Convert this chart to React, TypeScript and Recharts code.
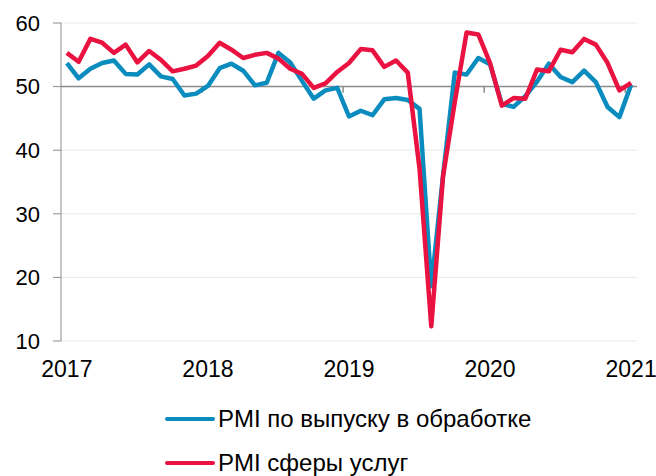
import React from 'react';
import { LineChart, Line, XAxis, YAxis, CartesianGrid, ReferenceLine } from 'recharts';

// monthly index, 0 = first month on the axis
const months = Array.from({ length: 49 }, (_, i) => i);

const manufacturing = [
  53.7, 51.3, 52.8, 53.7, 54.1, 52.0, 51.9, 53.5, 51.6, 51.2, 48.6, 48.9,
  50.1, 52.9, 53.6, 52.5, 50.2, 50.6, 55.3, 53.8, 50.9, 48.1, 49.4, 49.8,
  45.3, 46.2, 45.5, 48.0, 48.2, 47.9, 46.5, 18.6, 36.0, 52.2, 51.9, 54.5,
  53.5, 47.3, 46.8, 48.5, 50.8, 53.6, 51.5, 50.7, 52.5, 50.7, 46.8, 45.2,
  50.3,
];

const services = [
  55.3, 53.9, 57.5, 56.9, 55.3, 56.6, 53.8, 55.6, 54.2, 52.4, 52.8, 53.3,
  54.8, 56.9, 55.8, 54.5, 55.0, 55.3, 54.4, 52.8, 52.0, 49.8, 50.5, 52.3,
  53.7, 55.9, 55.7, 53.1, 54.1, 52.2, 37.1, 12.3, 35.9, 47.6, 58.5, 58.2,
  53.7, 47.0, 48.2, 48.1, 52.7, 52.4, 55.8, 55.4, 57.5, 56.6, 53.7, 49.4,
  50.6,
];

const yearTicks = [0, 12, 24, 36, 48];
const yearLabels = ['2017', '2018', '2019', '2020', '2021'];
const yearBoundaries = [11.5, 23.5, 35.5, 47.5];
const yTicks = [10, 20, 30, 40, 50, 60];

const seriesNames = ['PMI по выпуску в обработке', 'PMI сферы услуг'];
const BLUE = '#0a8cbe';
const RED = '#ea1240';
const FONT = '"Liberation Sans", Arial, sans-serif';

const data = months.map((m, i) => ({
  m,
  mfg: manufacturing[i],
  srv: services[i],
}));

export default function App() {
  return (
    <div style={{ position: 'absolute', left: 0, top: 0, width: 656, height: 476, background: '#fff', fontFamily: FONT }}>
      <LineChart
        width={656}
        height={476}
        data={data}
        margin={{ top: 23, right: 19, left: 0, bottom: 95 }}
      >
        <CartesianGrid vertical={false} stroke="#e8e8e8" strokeWidth={1} />
        <XAxis
          dataKey="m"
          type="number"
          domain={[-0.5, 48.5]}
          ticks={yearTicks}
          tickFormatter={(v) => yearLabels[yearTicks.indexOf(v)]}
          axisLine={false}
          tickLine={false}
          tickSize={0}
          tickMargin={20}
          height={40}
          tick={{ fill: '#000', fontSize: 23, fontFamily: FONT }}
        />
        <YAxis
          domain={[10, 60]}
          ticks={yTicks}
          width={61}
          interval={0}
          stroke="#8c8c8c"
          tickSize={8}
          tickMargin={13}
          tick={{ fill: '#000', fontSize: 22, fontFamily: FONT }}
        />
        <ReferenceLine y={50} stroke="#8c8c8c" strokeWidth={1.5} />
        {yearBoundaries.map((b) => (
          <ReferenceLine
            key={b}
            segment={[{ x: b, y: 50 }, { x: b, y: 49.05 }]}
            stroke="#8c8c8c"
            strokeWidth={1.5}
          />
        ))}
        <Line
          type="linear"
          dataKey="mfg"
          stroke={BLUE}
          strokeWidth={4.5}
          strokeLinejoin="round"
          dot={false}
          isAnimationActive={false}
        />
        <Line
          type="linear"
          dataKey="srv"
          stroke={RED}
          strokeWidth={4.5}
          strokeLinejoin="round"
          dot={false}
          isAnimationActive={false}
        />
      </LineChart>
      {[BLUE, RED].map((c, i) => (
        <div
          key={c}
          style={{
            position: 'absolute',
            left: 165,
            top: 404 + i * 44,
            height: 30,
            display: 'flex',
            alignItems: 'center',
            fontSize: 24,
            color: '#000',
            whiteSpace: 'nowrap',
          }}
        >
          <span style={{ display: 'inline-block', width: 50, height: 4, borderRadius: 2, background: c, marginRight: 3 }} />
          {seriesNames[i]}
        </div>
      ))}
    </div>
  );
}
